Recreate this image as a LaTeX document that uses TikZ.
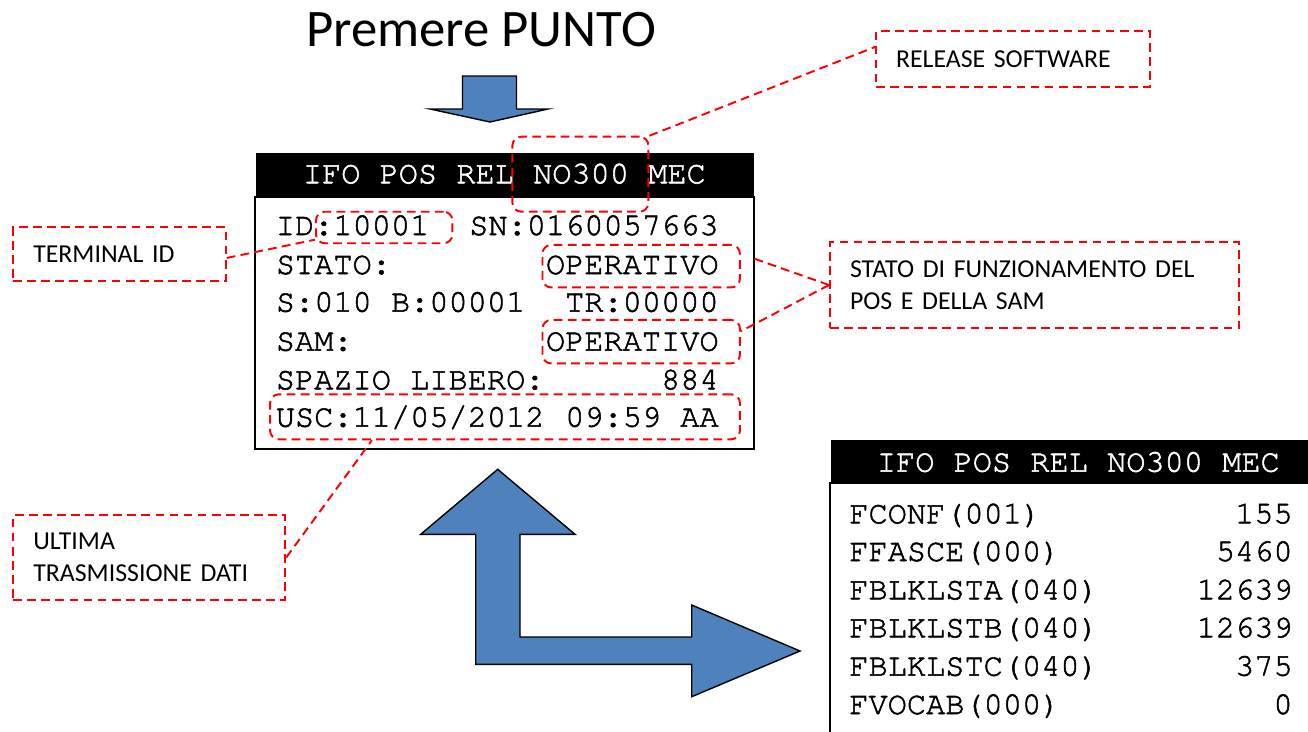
\documentclass[tikz,border=0pt]{standalone}
\usepackage[T1]{fontenc}
\usepackage{fontspec}
\newfontfamily\callout{Carlito}
\newcommand\lcdfont{\fontencoding{T1}\fontfamily{pcr}\fontsize{18.2}{22}\selectfont\special{pdf:literal direct 2 Tr 0.3 w}}
\definecolor{arrowblue}{HTML}{4F81BD}
\begin{document}
\begin{tikzpicture}[x=0.02cm, y=-0.02cm,
  lcd/.style={font=\lcdfont, inner sep=0pt, anchor=base west},
  lcd right/.style={lcd, anchor=base east},
  lcd head/.style={lcd, text=white},
  screen/.style={draw, line width=1.1pt, inner sep=0pt},
  head bar/.style={fill=black, inner sep=0pt},
  hl box/.style={draw=red, dash pattern=on 5pt off 3pt, line width=1.1pt, rounded corners=5pt, inner sep=0pt},
  note box/.style={draw=red, dash pattern=on 5pt off 3pt, line width=1.1pt, font=\callout\fontsize{14.7}{18}\selectfont, align=left, inner xsep=0.4cm, inner ysep=0pt},
  note line/.style={draw=red, dash pattern=on 5pt off 3pt, line width=1.1pt},
  block arrow/.style={draw=black, line width=0.8pt, fill=arrowblue, line join=miter}]
\useasboundingbox (0,0) rectangle (1308,731);
\node[font=\callout\fontsize{30}{36}\selectfont, anchor=base, inner sep=0pt] (title) at (481,46) {Premere PUNTO};
% block arrows
\draw[block arrow] (462.5,76) -- (516.5,76) -- (516.5,109) -- (548,109) -- (490,122) -- (430,109) -- (462.5,109) -- cycle;
\draw[block arrow] (497.7,469.3) -- (575,534.3) -- (520,534.3) -- (520,637) -- (691.7,637) -- (691.7,605) -- (800,651) -- (691.7,696.7) -- (691.7,664.3) -- (475.7,664.3) -- (475.7,534.3) -- (420.7,534.3) -- cycle;
% first screen
\node[screen, minimum width=9.99cm, minimum height=5.05cm] (scr1) at (504.7,323) {};
\node[head bar, minimum width=9.96cm, minimum height=0.85cm] (bar1) at (504.7,174.5) {};
\begin{scope}
\node[lcd head] (head1) at (302.5,183.3) {IFO POS REL NO300 MEC};
\node[lcd] (idrow) at (275.5,235) {ID:10001};
\node[lcd right] (snrow) at (719,235) {SN:0160057663};
\node[lcd] (statorow) at (275.5,274) {STATO:};
\node[lcd right] (statoval) at (719,274) {OPERATIVO};
\node[lcd] (sbrow) at (275.5,311.7) {S:010 B:00001};
\node[lcd right] (trrow) at (719,311.7) {TR:00000};
\node[lcd] (samrow) at (275.5,350.7) {SAM:};
\node[lcd right] (samval) at (719,350.7) {OPERATIVO};
\node[lcd] (freerow) at (275.5,389.3) {SPAZIO LIBERO:};
\node[lcd right] (freeval) at (719,389.3) {884};
\node[lcd] (uscrow) at (275.5,426.7) {USC:11/05/2012};
\node[lcd right] (uscval) at (719,426.7) {09:59 AA};
\end{scope}
% second screen
\begin{scope}
\clip (0,0) rectangle (1308,731);
\node[screen, minimum width=10cm, minimum height=5.53cm] (scr2) at (1080,621.6) {};
\node[head bar, minimum width=9.98cm, minimum height=0.87cm] (bar2) at (1080.5,461.7) {};
\node[lcd head] (head2) at (876.5,471.7) {IFO POS REL NO300 MEC};
\node[lcd] (f1) at (849,523.3) {FCONF(001)};
\node[lcd right] (v1) at (1293,523.3) {155};
\node[lcd] (f2) at (849,561) {FFASCE(000)};
\node[lcd right] (v2) at (1293,561) {5460};
\node[lcd] (f3) at (849,599.3) {FBLKLSTA(040)};
\node[lcd right] (v3) at (1293,599.3) {12639};
\node[lcd] (f4) at (849,637.3) {FBLKLSTB(040)};
\node[lcd right] (v4) at (1293,637.3) {12639};
\node[lcd] (f5) at (849,675.7) {FBLKLSTC(040)};
\node[lcd right] (v5) at (1293,675.7) {375};
\node[lcd] (f6) at (849,714) {FVOCAB(000)};
\node[lcd right] (v6) at (1293,714) {0};
\end{scope}
% highlighted fields
\node[hl box, minimum width=2.72cm, minimum height=1.5cm] (nobox) at (580.4,174.2) {};
\node[hl box, minimum width=2.73cm, minimum height=0.63cm] (idbox) at (384.2,227.5) {};
\node[hl box, minimum width=3.95cm, minimum height=0.85cm] (op1) at (641.2,266.2) {};
\node[hl box, minimum width=3.95cm, minimum height=0.87cm] (op2) at (641.2,341.7) {};
\node[hl box, minimum width=9.4cm, minimum height=0.9cm] (uscbox) at (505,416.8) {};
% notes
\node[note box, text width=4.68cm, minimum height=1.12cm] (relbox) at (1013,59) {RELEASE SOFTWARE};
\node[note box, text width=3.45cm, minimum height=1.07cm] (tidbox) at (119.5,254.2) {TERMINAL ID};
\node[note box, text width=7.38cm, minimum height=1.72cm] (statobox) at (1034.5,285) {STATO DI FUNZIONAMENTO DEL\\POS E DELLA SAM};
\node[note box, text width=4.64cm, minimum height=1.7cm] (ultbox) at (149.3,557.5) {ULTIMA\\TRASMISSIONE DATI};
\draw[note line] (nobox.north east) -- (relbox.175);
\draw[note line] (tidbox.-2) -- (idbox.190);
\draw[note line, shorten >=0.28cm] (statobox.west) -- (op1.7);
\draw[note line] (statobox.west) -- (op2.6);
\draw[note line] (ultbox.east) -- (uscbox.190);
\end{tikzpicture}
\end{document}
